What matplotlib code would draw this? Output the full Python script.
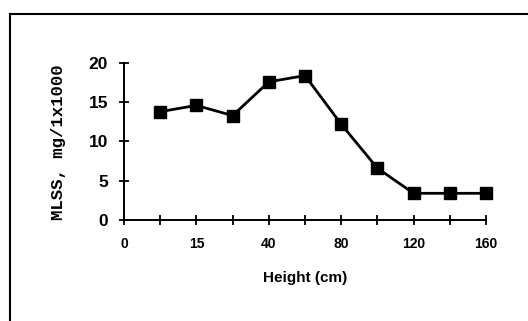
import numpy as np
import matplotlib.pyplot as plt
from matplotlib.lines import Line2D

# MLSS profile by sampling height
tick_labels = ['0', '', '15', '', '40', '', '80', '', '120', '', '160']
point_pos = [1, 2, 3, 4, 5, 6, 7, 8, 9, 10]
mlss = [13.8, 14.6, 13.3, 17.6, 18.4, 12.2, 6.6, 3.4, 3.4, 3.4]
y_ticks = [0, 5, 10, 15, 20]

fig = plt.figure(figsize=(5.28, 3.21), dpi=100)
fig.patch.set_facecolor('white')
W, H = 528, 321
ax = fig.add_axes([124 / W, 1 - 220 / H, (486 - 124) / W, (220 - 63) / H])

ax.plot(point_pos, mlss, color='black', linewidth=2.0, marker='s',
        markersize=9, markerfacecolor='black', markeredgecolor='black',
        clip_on=False)

ax.set_xlim(0, 10)
ax.set_ylim(0, 20)
ax.set_xticks(range(len(tick_labels)))
ax.set_xticklabels(tick_labels, fontsize=10, fontweight='bold',
                   family='Liberation Sans')
ax.set_yticks(y_ticks)
ax.set_yticklabels([str(v) for v in y_ticks], fontsize=12.5,
                   fontweight='bold', family='Liberation Sans')
ax.tick_params(axis='both', direction='inout', length=7, width=1.3,
               colors='black')
ax.tick_params(axis='x', pad=9)
ax.tick_params(axis='y', pad=8)
for side in ['top', 'right']:
    ax.spines[side].set_visible(False)
for side in ['left', 'bottom']:
    ax.spines[side].set_linewidth(1.4)

ax.set_xlabel('Height (cm)', fontsize=11, fontweight='bold',
              family='Liberation Sans', labelpad=14)
fig.text(59 / W, 1 - 142 / H, 'MLSS, mg/1x1000', rotation=90,
         ha='center', va='center', fontsize=12.5, fontweight='bold',
         family='Liberation Mono')

# outer frame: top and left edges only
fig.add_artist(Line2D([10 / W, 1.0], [1 - 14 / H, 1 - 14 / H],
                      transform=fig.transFigure, color='black', linewidth=1.5))
fig.add_artist(Line2D([10 / W, 10 / W], [0, 1 - 14 / H],
                      transform=fig.transFigure, color='black', linewidth=1.5))

fig.savefig('out.png', dpi=100)
